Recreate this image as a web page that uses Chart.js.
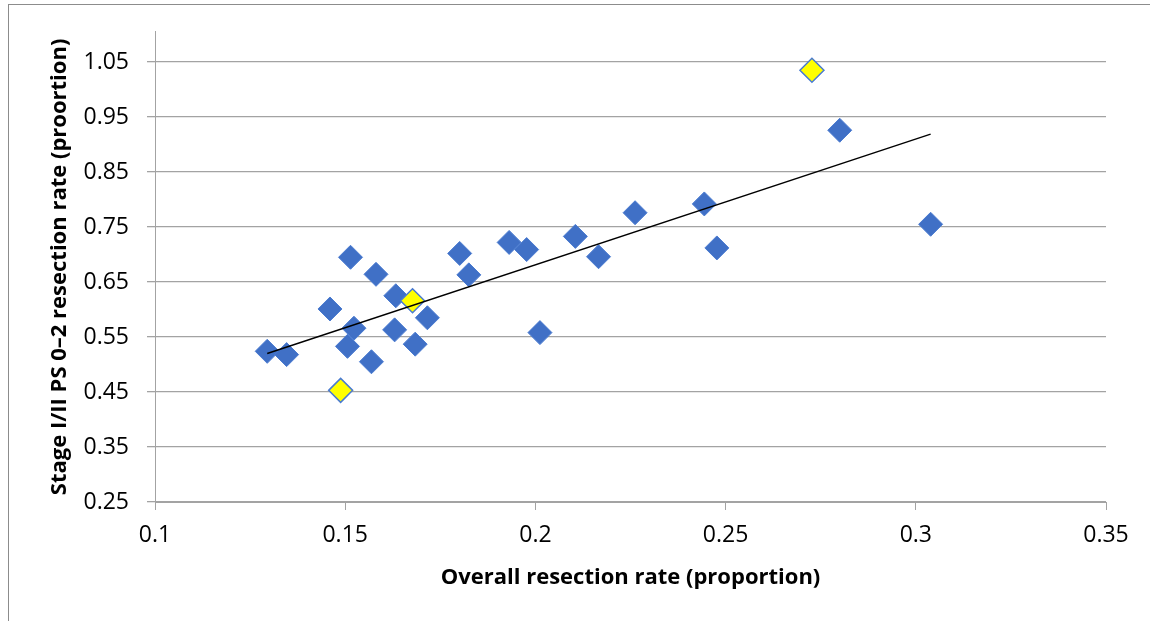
<!DOCTYPE html>
<html>
<head>
<meta charset="utf-8">
<script src="https://cdn.jsdelivr.net/npm/chart.js@4"></script>
<style>
  body { margin: 0; background: #fff; }
  #frame { position: absolute; left: 8px; top: 4px; width: 1200px; height: 700px;
           border-left: 1px solid #8c8c8c; border-top: 1px solid #8c8c8c; }
  #wrap { position: absolute; left: 0; top: 0; width: 1150px; height: 621px; }
</style>
</head>
<body>
<div id="frame"></div>
<div id="wrap"><canvas id="myChart"></canvas></div>
<script>
// blue points
const overallRate = [0.1295, 0.1346, 0.1460, 0.1506, 0.1514, 0.1523, 0.1569, 0.1581,
  0.1630, 0.1633, 0.1684, 0.1716, 0.1801, 0.1825, 0.1931, 0.1977, 0.2012, 0.2105,
  0.2166, 0.2262, 0.2444, 0.2477, 0.2800, 0.3039];
const stageRate = [0.524, 0.518, 0.601, 0.533, 0.695, 0.566, 0.505, 0.664,
  0.563, 0.625, 0.537, 0.585, 0.702, 0.663, 0.722, 0.709, 0.558, 0.733,
  0.696, 0.776, 0.792, 0.712, 0.926, 0.755];

// yellow points
const highlightX = [0.1488, 0.1677, 0.2727];
const highlightY = [0.453, 0.616, 1.035];

// trend line ends
const trendX = [0.1295, 0.3039];
const trendY = [0.520, 0.919];

const xTicks = [0.1, 0.15, 0.2, 0.25, 0.3, 0.35];
const yTicks = [0.25, 0.35, 0.45, 0.55, 0.65, 0.75, 0.85, 0.95, 1.05];

const toPoints = (xs, ys) => xs.map((x, i) => ({ x: x, y: ys[i] }));

const gridColor = '#a3a3a3';
const fontFamily = '"Open Sans", "Noto Sans", sans-serif';

const myChart = document.getElementById('myChart');

new Chart(myChart, {
  type: 'scatter',
  data: {
    datasets: [{
      type: 'line',
      data: toPoints(trendX, trendY),
      borderColor: '#000',
      borderWidth: 1.4,
      pointRadius: 0,
      fill: false
    }, {
      data: toPoints(highlightX, highlightY),
      pointStyle: 'rectRot',
      pointRadius: 12,
      pointHoverRadius: 12,
      backgroundColor: '#ffff00',
      borderColor: '#4a7bd0',
      borderWidth: 1.5
    }, {
      data: toPoints(overallRate, stageRate),
      pointStyle: 'rectRot',
      pointRadius: 12,
      pointHoverRadius: 12,
      backgroundColor: '#4070c6',
      borderColor: '#4a7bd0',
      borderWidth: 1
    }]
  },
  options: {
    responsive: true,
    maintainAspectRatio: false,
    animation: false,
    layout: { padding: { left: 30, top: 30, right: 44, bottom: 10 } },
    plugins: { legend: { display: false }, tooltip: { enabled: false } },
    scales: {
      x: {
        type: 'linear',
        min: 0.1,
        max: 0.35,
        afterBuildTicks: (s) => { s.ticks = xTicks.map(v => ({ value: v })); },
        afterFit: (s) => { s.height = 109; },
        ticks: {
          color: '#000',
          padding: 12,
          font: { family: fontFamily, size: 23 },
          callback: (v) => String(v)
        },
        grid: { drawOnChartArea: false, drawTicks: true, tickLength: 8, color: gridColor },
        border: { color: gridColor },
        title: {
          display: true,
          text: 'Overall resection rate (proportion)',
          color: '#000',
          font: { family: fontFamily, size: 22, weight: 'bold' },
          padding: { top: 0, bottom: 20 }
        }
      },
      y: {
        type: 'linear',
        min: 0.25,
        max: 1.105,
        afterBuildTicks: (s) => { s.ticks = yTicks.map(v => ({ value: v })); },
        afterFit: (s) => { s.width = 125; },
        ticks: {
          color: '#000',
          padding: 18,
          font: { family: fontFamily, size: 23 },
          callback: (v) => v.toFixed(2)
        },
        grid: { drawTicks: true, tickLength: 8, color: gridColor, lineWidth: 1.3 },
        border: { color: gridColor },
        title: {
          display: true,
          text: 'Stage I/II PS 0\u20132 resection rate (proortion)',
          color: '#000',
          font: { family: fontFamily, size: 22, weight: 'bold' },
          padding: { top: 17, bottom: 0 }
        }
      }
    }
  }
});
</script>
</body>
</html>
